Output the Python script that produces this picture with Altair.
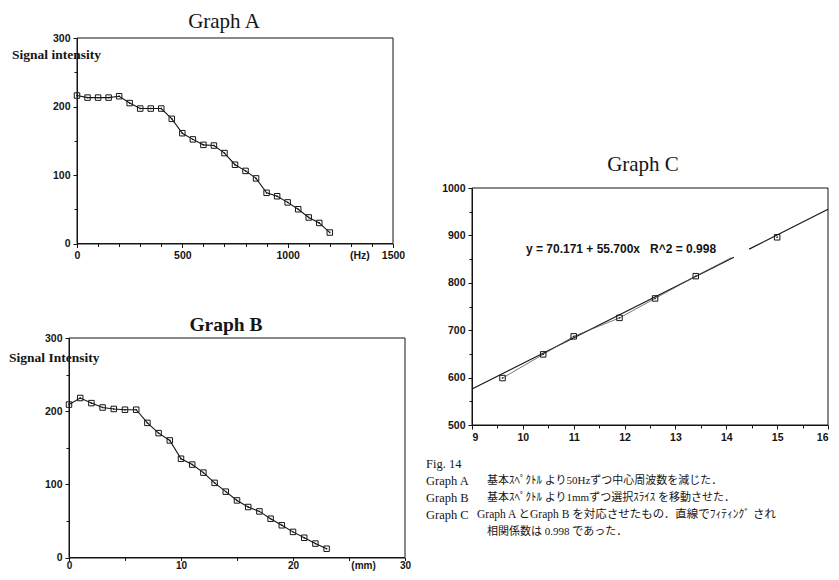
import altair as alt
import pandas as pd

# ---------------- data ----------------
# Graph A : signal intensity vs centre frequency shift (Hz)
a_hz = [0, 50, 100, 150, 200, 250, 300, 350, 400, 450, 500, 550, 600,
        650, 700, 750, 800, 850, 900, 950, 1000, 1050, 1100, 1150, 1200]
a_signal = [216, 213, 213, 213, 215, 205, 197, 197, 197, 182, 161, 152, 144,
            143, 132, 115, 106, 95, 74, 69, 60, 50, 38, 30, 16]
a_x_ticks = [0, 500, 1000, 1500]
a_x_minor = [100, 200, 300, 400, 600, 700, 800, 900, 1100, 1200, 1300, 1400]
a_y_ticks = [0, 100, 200, 300]
a_y_minor = [50, 150, 250]

# Graph B : signal intensity vs slice shift (mm)
b_mm = [0, 1, 2, 3, 4, 5, 6, 7, 8, 9, 10, 11, 12, 13, 14, 15, 16, 17, 18,
        19, 20, 21, 22, 23]
b_signal = [209, 218, 211, 205, 203, 202, 202, 184, 170, 160, 135, 127, 116,
            102, 90, 78, 69, 63, 53, 44, 35, 27, 19, 12]
b_x_ticks = [0, 10, 20, 30]
b_x_minor = [5, 15, 25]
b_y_ticks = [0, 100, 200, 300]
b_y_minor = [50, 150, 250]

# Graph C : correspondence of A and B
c_mm = [9.6, 10.4, 11.0, 11.9, 12.6, 13.4, 15.0]
c_hz = [599, 649, 687, 726, 767, 814, 896]
c_trace_mm = [9.6, 10.4, 11.0, 11.9, 12.6, 13.4, 14.1]
c_trace_hz = [599, 649, 687, 726, 767, 814, 853]
fit_mm = [9.0, 14.15, 14.45, 16.0]
fit_hz = [576, 854, 871, 955]
fit_piece = [1, 1, 2, 2]
c_x_ticks = [9, 10, 11, 12, 13, 14, 15, 16]
c_x_minor = [9.5, 10.5, 11.5, 12.5, 13.5, 14.5, 15.5]
c_y_ticks = [500, 600, 700, 800, 900, 1000]
c_y_minor = [550, 650, 750, 850, 950]
fit_label = "y = 70.171 + 55.700x\u00a0\u00a0\u00a0R^2 = 0.998"

titles = ["Graph A", "Graph B", "Graph C"]
note_heads = ["Fig. 14", "Graph A", "Graph B", "Graph C"]
note_bodies = ["基本ｽﾍﾟｸﾄﾙ より50Hzずつ中心周波数を減じた．",
               "基本ｽﾍﾟｸﾄﾙ より1mmずつ選択ｽﾗｲｽ を移動させた．",
               "Graph A とGraph B を対応させたもの．直線でﾌｨﾃｨﾝｸﾞ され",
               "相関係数は 0.998 であった．"]

# ---------------- layout / style ----------------
INK = "#151515"
SANS = "Liberation Sans"
SERIF = "Liberation Serif"
JP = "Liberation Serif, Noto Sans CJK JP"
W, H = 823, 564
M = 8


def px(v):
    return v - M


A_XR = [px(77), px(393)]
A_YR = [px(243.5), px(38)]
B_XR = [px(69), px(405)]
B_YR = [px(557.5), px(338)]
C_XR = [px(472), px(828)]
C_YR = [px(425), px(188)]


def sc(dom, rng):
    return alt.Scale(domain=dom, range=rng, nice=False, zero=False)


def ax(orient, offset, values, labels=True, tick=4, domain=True, pad=3, size=10.5, flush=False):
    return alt.Axis(orient=orient, offset=offset, values=values, labels=labels,
                    ticks=True, tickSize=tick, tickColor=INK, tickWidth=1,
                    domain=domain, domainColor=INK, domainWidth=1, grid=False,
                    title=None, format="d", labelFont=SANS, labelFontSize=size,
                    labelFontWeight="bold", labelColor=INK, labelPadding=pad,
                    labelFlush=flush, labelOverlap=False)


def graph(xs_vals, ys_vals, xdom, ydom, xr, yr, xt, xm, yt, ym, xpad=3, xtick=4, xsize=10.5):
    xs = sc(xdom, xr)
    ys = sc(ydom, yr)
    df = pd.DataFrame({"x": xs_vals, "y": ys_vals})
    frame_df = pd.DataFrame({"x0": [xdom[0]], "x1": [xdom[1]],
                             "y0": [ydom[0]], "y1": [ydom[1]]})
    x_off = yr[0] - H
    y_off = -xr[0]
    frame = alt.Chart(frame_df).mark_rect(fillOpacity=0, stroke=INK, strokeWidth=1).encode(
        x=alt.X("x0:Q", scale=xs, axis=ax("bottom", x_off, xt, pad=xpad, tick=xtick, size=xsize)),
        x2="x1:Q",
        y=alt.Y("y0:Q", scale=ys, axis=ax("left", y_off, yt)),
        y2="y1:Q")
    line = alt.Chart(df).mark_line(color=INK, strokeWidth=1.1).encode(
        x=alt.X("x:Q", scale=xs, axis=ax("bottom", x_off, xm, labels=False, tick=3, domain=False)),
        y=alt.Y("y:Q", scale=ys, axis=ax("left", y_off, ym, labels=False, tick=3, domain=False)))
    pts = alt.Chart(df).mark_point(shape="square", filled=False, size=30, color=INK,
                                   strokeWidth=1, opacity=1).encode(
        x=alt.X("x:Q", scale=xs, axis=None), y=alt.Y("y:Q", scale=ys, axis=None))
    dots = alt.Chart(df).mark_point(shape="square", filled=True, size=2, color=INK,
                                    opacity=1).encode(
        x=alt.X("x:Q", scale=xs, axis=None), y=alt.Y("y:Q", scale=ys, axis=None))
    return [frame, line, pts, dots], xs, ys


def label(text, x, y, font, size, weight="normal", align="left"):
    return alt.Chart(pd.DataFrame({"t": [text]})).mark_text(
        font=font, fontSize=size, fontWeight=weight, align=align,
        baseline="middle", color=INK).encode(
        x=alt.value(px(x)), y=alt.value(px(y)), text="t:N")


layers = []

# Graph A
la, a_xs, a_ys = graph(a_hz, a_signal, [0, 1500], [0, 300], A_XR, A_YR,
                       a_x_ticks, a_x_minor, a_y_ticks, a_y_minor)
layers += la
layers.append(alt.Chart(pd.DataFrame({"x": [1343], "t": ["(Hz)"]})).mark_text(
    font=SANS, fontSize=10.5, fontWeight="bold", baseline="top", color=INK).encode(
    x=alt.X("x:Q", scale=a_xs, axis=None), y=alt.value(px(251)), text="t:N"))

# Graph B
lb, b_xs, b_ys = graph(b_mm, b_signal, [0, 30], [0, 300], B_XR, B_YR,
                       b_x_ticks, b_x_minor, b_y_ticks, b_y_minor,
                       xpad=0, xtick=3, xsize=10)
layers += lb
layers.append(alt.Chart(pd.DataFrame({"x": [26.3], "t": ["(mm)"]})).mark_text(
    font=SANS, fontSize=10, fontWeight="bold", baseline="top", color=INK).encode(
    x=alt.X("x:Q", scale=b_xs, axis=None), y=alt.value(px(560.5)), text="t:N"))

# Graph C
c_xs = sc([9, 16], C_XR)
c_ys = sc([500, 1000], C_YR)
c_xoff = C_YR[0] - H
c_yoff = -C_XR[0]
c_frame = alt.Chart(pd.DataFrame({"x0": [9], "x1": [16], "y0": [500], "y1": [1000]})).mark_rect(
    fillOpacity=0, stroke=INK, strokeWidth=1).encode(
    x=alt.X("x0:Q", scale=c_xs, axis=ax("bottom", c_xoff, c_x_ticks, flush=True)),
    x2="x1:Q",
    y=alt.Y("y0:Q", scale=c_ys, axis=ax("left", c_yoff, c_y_ticks)),
    y2="y1:Q")
fit_df = pd.DataFrame({"x": fit_mm, "y": fit_hz, "p": fit_piece})
c_fit = alt.Chart(fit_df).mark_line(color=INK, strokeWidth=1.2).encode(
    x=alt.X("x:Q", scale=c_xs, axis=ax("bottom", c_xoff, c_x_minor, labels=False, tick=3, domain=False)),
    y=alt.Y("y:Q", scale=c_ys, axis=ax("left", c_yoff, c_y_minor, labels=False, tick=3, domain=False)),
    detail="p:N")
trace_df = pd.DataFrame({"x": c_trace_mm, "y": c_trace_hz})
c_trace = alt.Chart(trace_df).mark_line(color="#555555", strokeWidth=0.8).encode(
    x=alt.X("x:Q", scale=c_xs, axis=None), y=alt.Y("y:Q", scale=c_ys, axis=None))
c_df = pd.DataFrame({"x": c_mm, "y": c_hz})
c_pts = alt.Chart(c_df).mark_point(shape="square", filled=False, size=30, color=INK,
                                   strokeWidth=1, opacity=1).encode(
    x=alt.X("x:Q", scale=c_xs, axis=None), y=alt.Y("y:Q", scale=c_ys, axis=None))
c_dots = alt.Chart(c_df).mark_point(shape="square", filled=True, size=2, color=INK,
                                    opacity=1).encode(
    x=alt.X("x:Q", scale=c_xs, axis=None), y=alt.Y("y:Q", scale=c_ys, axis=None))
c_eq = alt.Chart(pd.DataFrame({"x": [11.93], "y": [871], "t": [fit_label]})).mark_text(
    font=SANS, fontSize=12, fontWeight="bold", color=INK).encode(
    x=alt.X("x:Q", scale=c_xs, axis=None), y=alt.Y("y:Q", scale=c_ys, axis=None), text="t:N")
layers += [c_frame, c_fit, c_trace, c_pts, c_dots, c_eq]

# Titles and axis captions
layers.append(label(titles[0], 224, 22, SERIF, 21, align="center"))
layers.append(label(titles[1], 226, 325, SERIF, 19.5, weight="bold", align="center"))
layers.append(label(titles[2], 643, 165, SERIF, 21, align="center"))
layers.append(label("Signal intensity", 12, 55, SERIF, 13.5, weight="bold"))
layers.append(label("Signal Intensity", 9, 358, SERIF, 13.5, weight="bold"))

# Caption block
row_scale = alt.Scale(domain=[0, 4], range=[px(464), px(532)])
heads_df = pd.DataFrame({"r": [0, 1, 2, 3], "t": note_heads})
layers.append(alt.Chart(heads_df).mark_text(
    font=SERIF, fontSize=12.5, align="left", baseline="middle", color=INK).encode(
    x=alt.value(px(426)), y=alt.Y("r:Q", scale=row_scale, axis=None), text="t:N"))
body_df = pd.DataFrame({"r": [1, 2, 4], "t": [note_bodies[0], note_bodies[1], note_bodies[3]]})
layers.append(alt.Chart(body_df).mark_text(
    font=JP, fontSize=11, align="left", baseline="middle", color=INK).encode(
    x=alt.value(px(487)), y=alt.Y("r:Q", scale=row_scale, axis=None), text="t:N"))
body3_df = pd.DataFrame({"r": [3], "t": [note_bodies[2]]})
layers.append(alt.Chart(body3_df).mark_text(
    font=JP, fontSize=11.5, align="left", baseline="middle", color=INK).encode(
    x=alt.value(px(477)), y=alt.Y("r:Q", scale=row_scale, axis=None), text="t:N"))

chart = alt.layer(*layers).resolve_scale(
    x="independent", y="independent").resolve_axis(
    x="independent", y="independent").properties(
    width=W, height=H, padding=0, background="white",
    autosize=alt.AutoSizeParams(type="none")).configure_view(strokeWidth=0)

chart.save("out.html", embed_options={"renderer": "svg", "actions": False})
